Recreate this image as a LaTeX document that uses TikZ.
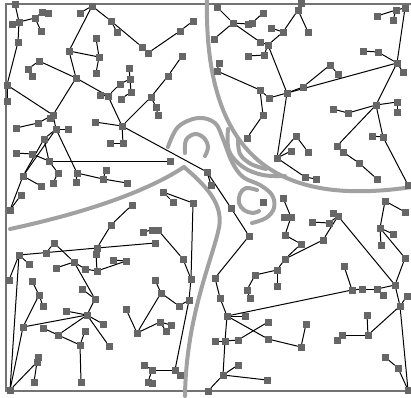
\documentclass[tikz,border=0pt]{standalone}
\pgfdeclarelayer{bg}
\pgfsetlayers{bg,main}
\begin{document}
\begin{tikzpicture}[x=1pt,y=-1pt,
  sq/.style={rectangle,draw=black!60,fill=black!60,minimum size=5.8pt,inner sep=0pt,line width=0.5pt},
  edge/.style={black,line width=1pt},
  band/.style={draw=black!37,line width=4pt,line cap=round},
  frame/.style={draw=black!55,line width=1.4pt}]
\useasboundingbox (0,0) rectangle (411,397);
% nodes
\foreach \n/\x/\y in {a1/15/4,a2/19/22,a3/12/24,a4/35/18,a5/42/12,a6/48/13,a7/41/31,a8/18/42,a9/92/6,a10/80/13,a11/111/21,a12/117/32,a14/96/38,a15/99/57,a16/69/51,a17/96/73,a18/39/61,a19/28/69,a20/32/76,a21/76/78,a22/7/85,a23/7/101,a24/108/96,a25/100/95,a26/129/68,a27/130/79,a28/120/84,a29/131/92,a30/121/99,a31/50/118,a32/53/115,a33/16/128,a34/38/123,a35/56/129,a36/68/129,a37/44/139,a38/122/126,a39/95/122}
  \node[sq] (\n) at (\x,\y) {};
\foreach \n/\x/\y in {b1/217/7,b2/233/23,b3/248/24,b4/252/23,b5/263/13,b6/214/39,b7/260/42,b9/193/21,b10/180/31,b11/148/53,b12/142/47,b13/182/56,b14/168/76,b15/151/97,b16/156/107,b17/158/115,b19/219/63,b20/217/71,b21/260/90,b22/248/56,b23/264/55,b24/269/98,b25/263/115}
  \node[sq] (\n) at (\x,\y) {};
\foreach \n/\x/\y in {c1/301/3,c2/298/10,c3/308/32,c4/283/32,c5/271/28,c6/268/45,c7/287/93,c8/303/87,c9/330/65,c10/338/74,c11/397/63,c12/363/51,c13/378/52,c14/403/72,c15/405/8,c16/396/10,c17/377/16,c18/393/20,c19/376/105,c20/333/109,c21/348/113,c22/397/102,c23/397/112}
  \node[sq] (\n) at (\x,\y) {};
\foreach \n/\x/\y in {d1/296/136,d2/277/158,d3/291/151,d4/308/152,d5/305/177,d6/316/179,d7/337/146,d8/343/152,d9/359/163,d10/377/179,d11/372/136,d12/383/137,d13/408/185,d14/283/198,d15/385/201,d16/405/212,d17/284/217,d18/291/217,d19/285/235,d20/301/244,d21/285/259,d22/323/240,d23/333/213,d24/338/216,d25/312/222,d26/329/223,d27/380/228,d28/393/234,d29/381/245,d30/405/258,d31/344/266}
  \node[sq] (\n) at (\x,\y) {};
\foreach \n/\x/\y in {e1/277/270,e3/277/286,e5/352/290,e6/362/289,e7/377/289,e8/383/295,e9/395/285,e10/407/296,e11/400/306,e13/306/324,e14/301/347,e15/367/315,e16/368/335,e17/342/335,e18/337/340,e19/385/357,e20/398/368,e21/408/390}
  \node[sq] (\n) at (\x,\y) {};
\foreach \n/\x/\y in {f1/183/259,f2/191/279,f3/189/300,f4/155/280,f5/161/293,f6/179/306,f7/137/333,f8/160/322,f9/171/325,f10/166/331,f11/144/365,f12/152/370,f13/148/382,f14/152/383,f15/175/370,f16/180/375,f17/215/278,f18/220/298,f19/227/316,f20/245/316,f21/255/275,f22/247/290,f23/250/298,f23b/268/322,f23c/268/339,f24/215/341,f25/225/341,f26/238/340,f27/223/375,f28/238/365,f29/267/380,f30/208/391}
  \node[sq] (\n) at (\x,\y) {};
\foreach \n/\x/\y in {g1/9/280,g2/19/255,g3/29/264,g4/32/281,g5/39/295,g6/43/306,g7/23/327,g8/43/328,g9/58/335,g10/80/345,g11/85/331,g12/87/315,g13/66/311,g14/103/324,g15/95/299,g16/82/289,g17/74/262,g18/56/268,g19/85/269,g20/97/271,g21/113/260,g22/126/261,g23/109/346,g25/126/309,g26/37/362,g27/38/357,g28/34/382,g29/81/382,g30/10/390}
  \node[sq] (\n) at (\x,\y) {};
\foreach \n/\x/\y in {h5/16/153,h6/32/154,h7/49/161,h8/58/173,h9/53/183,h10/23/176,h11/41/186,h12/21/195,h13/10/210,h14/77/173,h15/76/182,h16/103/179,h17/106/170,h18/127/183,h19/110/143,h20/123/143,h22/132/205,h23/111/225,h24/97/248,h25/96/254,h26/54/243,h27/46/253}
  \node[sq] (\n) at (\x,\y) {};
\foreach \n/\x/\y in {i2/170/161,i3/207/172,i4/211/185,i5/163/192,i6/173/202,i7/193/203,i8/152/230,i9/158/230,i10/143/232,i11/231/208,i12/247/138,i15/263/202,j2/249/236,j3/155/243}
  \node[sq] (\n) at (\x,\y) {};
\begin{pgfonlayer}{bg}
% frame
\draw[frame] (412,4) -- (6,4) -- (6,391) -- (412,391);
% gray bands
\draw[band] (207,-3) .. controls (203,170) and (290,205) .. (412,187);
\draw[band] (10,229) .. controls (70,216) and (140,196) .. (184,167);
\draw[band] (184,167) .. controls (205,185) and (226,205) .. (218,232) .. controls (210,265) and (186,320) .. (185,396);
\draw[band] plot[smooth,tension=0.6] coordinates {(168,147) (178,127) (198,118) (215,123) (223,139) (232,162) (243,177) (260,185) (272,195) (274,208) (266,218) (252,223)};
\draw[band] plot[smooth,tension=0.6] coordinates {(185,153) (186,140) (195,134) (204,138) (208,147) (205,156)};
\draw[band] plot[smooth,tension=0.6] coordinates {(257,190) (246,188) (240,194) (239,203) (244,210) (253,213) (259,211)};
\draw[band] plot[smooth,tension=0.6] coordinates {(228,129) (229,151) (243,167) (263,175) (285,176)};
\draw[band] plot[smooth,tension=0.6] coordinates {(238,139) (240,154) (251,164) (266,169)};
% edges
\foreach \u/\v in {a1/a2,a2/a3,a2/a4,a4/a5,a5/a6,a4/a7,a2/a8,a8/a22,a22/a23,a22/a32,a9/a10,a9/a16,a9/a11,a11/a12,a11/b12,a16/a15,a14/a15,a15/a17,a16/a21,a18/a19,a19/a20,a18/a21,a21/a24,a21/a32,a24/a25,a24/a38,a24/a28,a26/a27,a27/a28,a27/a29,a29/a30,a31/a32,a32/a34,a34/a33,a32/a35,a35/a36,a35/a37,a38/a39,a38/b15,a38/i3,a38/h20,h19/h20}
  \draw[edge] (\u) -- (\v);
\foreach \u/\v in {b1/b2,b2/b3,b3/b4,b4/b5,b2/b6,b2/b7,b7/c6,b9/b10,b10/b11,b11/b12,b13/b14,b14/b15,b15/b16,b16/b17,b19/b20,b20/b21,b21/b24,b21/b25,b22/b23,b23/c6,b25/i12,b24/c7}
  \draw[edge] (\u) -- (\v);
\foreach \u/\v in {c1/c2,c2/c3,c2/c4,c4/c5,c4/c6,c6/c7,c7/c8,c8/c9,c9/c10,c7/c11,c11/c13,c12/c13,c11/c14,c11/c15,c15/c16,c16/c17,c16/c18,c11/c19,c19/c21,c20/c21,c19/c22,c22/c23,c19/d12,c19/d7,c7/d2}
  \draw[edge] (\u) -- (\v);
\foreach \u/\v in {d1/d2,d1/d4,d2/d3,d2/d5,d5/d6,d7/d8,d8/d9,d9/d10,d11/d12,d12/d13,d14/d18,d17/d18,d18/d19,d19/d20,d20/d21,d21/d22,d22/d24,d23/d24,d25/d26,d26/d24,d15/d16,d15/d27,d27/d28,d27/d29,d27/d30}
  \draw[edge] (\u) -- (\v);
\foreach \u/\v in {e1/d21,e1/e3,d31/e5,e5/e6,e6/e7,e7/e9,e8/e7,e9/d24,e9/d30,e9/e11,e10/e11,e11/e21,e11/e16,e15/e16,e16/e17,e17/e18,e13/e14,e14/f23c,e19/e20,e20/e21,e5/f19}
  \draw[edge] (\u) -- (\v);
\foreach \u/\v in {i7/f2,f2/f3,f3/f6,f3/f15,i9/f1,f1/f2,f4/f5,f5/f6,f5/f7,f7/f8,f8/f9,f8/f10,f15/f16,f15/f12,f11/f12,f12/f13,f13/f14,j2/f17,f17/f18,f18/f19,f19/f20,f19/f23c,f19/f25,f24/f25,f25/f26,f26/f23b,f25/f27,f27/f28,f27/f29,f27/f30,f21/f22,f22/f23,f21/e1}
  \draw[edge] (\u) -- (\v);
\foreach \u/\v in {g2/g1,g2/g3,g2/g30,g30/g26,g26/g27,g26/g28,g7/g30,g7/g5,g5/g4,g5/g6,g7/g12,g12/g13,g12/g14,g12/g15,g15/g16,g12/g9,g8/g9,g9/g10,g10/g11,g10/g29,g12/g23,g17/g15,g17/g18,g17/g19,g19/g20,g20/g22,g21/g22,g25/f7}
  \draw[edge] (\u) -- (\v);
\foreach \u/\v in {a35/h10,a37/h10,a37/h7,h10/h13,h10/h11,h12/h13,a35/h14,h14/h15,h14/h16,h16/h17,h16/h18,h5/h6,h6/h7,h7/i2,h7/h8,h8/h9,h22/h23,h23/h24,h24/h25,g2/h24,h24/j3,h26/h27,h26/g17,h25/g20}
  \draw[edge] (\u) -- (\v);
\foreach \u/\v in {i3/i4,i3/i11,i11/j2,i5/i6,i5/i7,i8/i9,i8/i10}
  \draw[edge] (\u) -- (\v);
\end{pgfonlayer}
\end{tikzpicture}
\end{document}
